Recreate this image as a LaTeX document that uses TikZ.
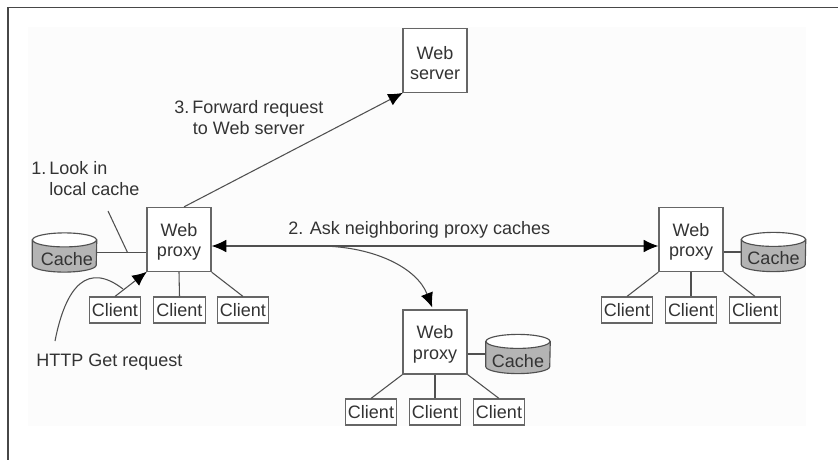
\documentclass[tikz,border=0pt]{standalone}
\usepackage{fontspec}
\setmainfont{Liberation Sans}
\usetikzlibrary{arrows.meta,calc}
\definecolor{ink}{HTML}{333333}
\definecolor{edge}{HTML}{666666}
\definecolor{wire}{HTML}{505050}
\definecolor{panel}{HTML}{FCFCFC}
\definecolor{disk}{HTML}{B4B4B4}
\newcommand{\lowered}{\rule{0pt}{13.5pt}}
\newcommand{\diskdraw}[1]{%
  \path[fill=disk,draw=wire,line width=0.85pt]
    ($(#1.north west)+(0,7)$) -- ($(#1.south west)+(0,-7)$)
    arc[start angle=180,end angle=360,x radius=24pt,y radius=5.25pt]
    -- ($(#1.north east)+(0,7)$) -- cycle;
  \path[fill=white,draw=wire,line width=0.85pt]
    ($(#1.north)+(0,7)$) ellipse[x radius=24pt,y radius=5.25pt];
}
\tikzset{
  x=0.75pt,y=-0.75pt,
  txt/.style={font=\fontsize{13.5pt}{15.4pt}\selectfont,text=ink,inner sep=0pt},
  bigbox/.style={txt,draw=edge,line width=0.95pt,fill=white,minimum width=48pt,minimum height=48pt,align=center},
  clientbox/.style={txt,draw=edge,line width=0.85pt,fill=white,minimum width=38.5pt,minimum height=19.5pt},
  cachedisk/.style={inner sep=0pt,minimum width=48pt,minimum height=29pt},
  label/.style={txt,anchor=west,align=left},
  wireline/.style={draw=wire,line width=0.8pt},
  tip/.tip={Latex[length=11pt,width=9.5pt,color=black]},
  arrowline/.style={wireline,-tip,shorten >=-0.5pt},
}
\begin{document}
\begin{tikzpicture}
\useasboundingbox (0,0) rectangle (838,460);
\fill[panel] (28,27) rectangle (806,426);
\coordinate (frameA) at (8,460);
\coordinate (frameB) at (8,7.5);
\coordinate (frameC) at (838,7.5);
\draw[draw=ink!90,line width=0.9pt] (frameA) -- (frameB) -- (frameC);

\node[bigbox] (server) at (435,60.5) {\lowered Web\\server};
\node[bigbox] (pL) at (179,239.5) {\lowered Web\\proxy};
\node[bigbox] (pR) at (691,239.5) {\lowered Web\\proxy};
\node[bigbox] (pB) at (435,342) {\lowered Web\\proxy};

\node[clientbox] (cL1) at (115,310) {Client};
\node[clientbox] (cL2) at (179.5,310) {Client};
\node[clientbox] (cL3) at (243,310) {Client};
\node[clientbox] (cR1) at (627,310) {Client};
\node[clientbox] (cR2) at (691,310) {Client};
\node[clientbox] (cR3) at (755,310) {Client};
\node[clientbox] (cB1) at (371,412) {Client};
\node[clientbox] (cB2) at (435,412) {Client};
\node[clientbox] (cB3) at (499,412) {Client};

\node[cachedisk] (dL) at (64.5,252.5) {};
\node[cachedisk] (dR) at (773.5,252) {};
\node[cachedisk] (dB) at (518,354) {};
\diskdraw{dL}
\diskdraw{dR}
\diskdraw{dB}
\node[txt] (tL) at (67,259.5) {Cache};
\node[txt] (tR) at (773.5,258.5) {Cache};
\node[txt] (tB) at (518,361) {Cache};

\node[label] (l3) at (174,117.5) {3.\hspace{2.3pt}Forward request\\\hspace*{14pt}to Web server};
\node[label] (l1) at (31,178.5) {1.\hspace{2.3pt}Look in\\\hspace*{13.5pt}local cache};
\node[label] (l2) at (288,230) {2. Ask neighboring proxy caches};
\node[label] (lH) at (36,362) {HTTP Get request};

\coordinate (lookEnd) at (108,211);
\coordinate (lookFoot) at (127.5,252.5);
\coordinate (httpStart) at (55,341);
\coordinate (httpMerge) at (123,289);
\coordinate (forkStart) at (322,246);

% wires
\draw[wireline] (dL.east |- lookFoot) -- (pL.west |- lookFoot);
\draw[wireline] (lookEnd) -- (lookFoot);
\draw[wireline] (pR.east |- dR) -- (dR.west);
\draw[wireline] (pB.east |- dB) -- (dB.west);
\draw[wireline] (pL.south) -- (cL2.north);
\draw[wireline] (pL.south east) -- (cL3.north);
\draw[wireline] (pR.south west) -- (cR1.north);
\draw[wireline] (pR.south) -- (cR2.north);
\draw[wireline] (pR.south east) -- (cR3.north);
\draw[wireline] (pB.south west) -- (cB1.north);
\draw[wireline] (pB.south) -- (cB2.north);
\draw[wireline] (pB.south east) -- (cB3.north);
\draw[arrowline] (cL1.north) -- (pL.south west);
\draw[wireline] (httpStart) .. controls (66,285) and (88,262) .. (httpMerge);
\draw[arrowline] ($(pL.north)+(5,0)$) -- (server.south west);
\draw[wireline,tip-tip] ($(pL.east)+(0,6.5)$) -- ($(pR.west)+(0,6.5)$);
\draw[arrowline] (forkStart) .. controls (375,247) and (417,268) .. ($(pB.north)+(-3,-2.5)$);
\end{tikzpicture}
\end{document}
